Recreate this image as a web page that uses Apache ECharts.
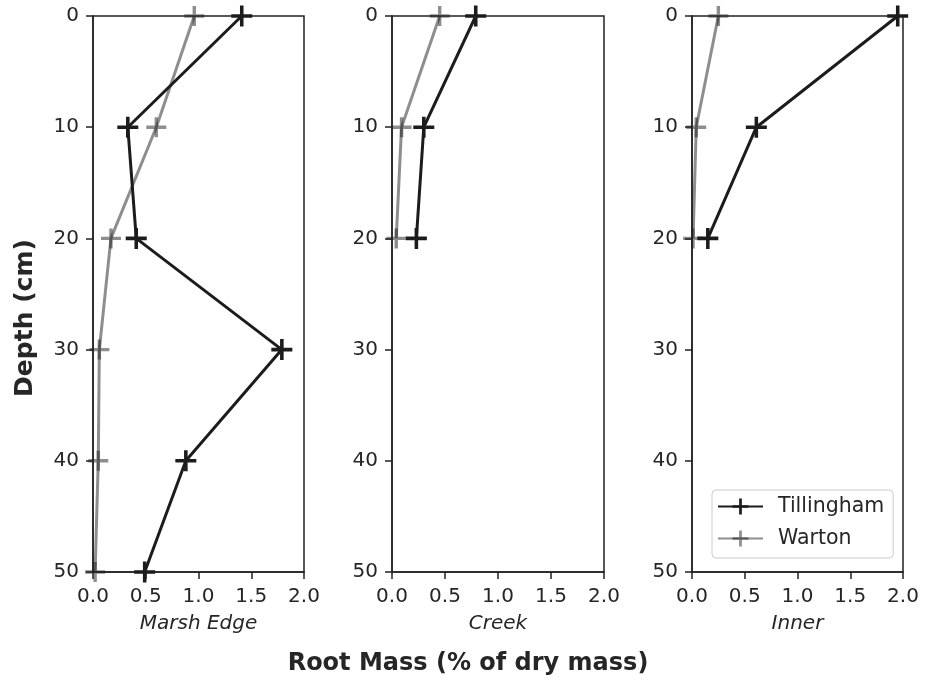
<!DOCTYPE html>
<html>
<head>
<meta charset="utf-8">
<script src="https://cdn.jsdelivr.net/npm/echarts@6/dist/echarts.min.js"></script>
<style>html,body{margin:0;padding:0;background:#fff}#c{width:936px;height:684px}</style>
</head>
<body>
<div id="c"></div>
<script>
// ---- data ----
const panelNames = ['Marsh Edge', 'Creek', 'Inner'];
const seriesNames = ['Tillingham', 'Warton'];
const marshDepths = [0, 10, 20, 30, 40, 50];
const marshTillingham = [1.41, 0.33, 0.41, 1.79, 0.88, 0.49];
const marshWarton = [0.96, 0.60, 0.17, 0.06, 0.05, 0.02];
const creekDepths = [0, 10, 20];
const creekTillingham = [0.79, 0.30, 0.23];
const creekWarton = [0.45, 0.09, 0.04];
const innerDepths = [0, 10, 20];
const innerTillingham = [1.95, 0.61, 0.15];
const innerWarton = [0.25, 0.04, 0.01];
const xTicks = [0, 0.5, 1.0, 1.5, 2.0];
const yTicks = [0, 10, 20, 30, 40, 50];

const panels = [
  {depths: marshDepths, till: marshTillingham, wart: marshWarton},
  {depths: creekDepths, till: creekTillingham, wart: creekWarton},
  {depths: innerDepths, till: innerTillingham, wart: innerWarton}
];

const FONT = 'DejaVu Sans';
const TXT = '#262626';
const TICK = '#222';
const plus = 'path://M-1.7,-10H1.7V-1.7H10V1.7H1.7V10H-1.7V1.7H-10V-1.7H-1.7Z';
const gridLefts = [93, 392, 692];
const gridWidths = [211, 212, 211];

const grids = [], xAxes = [], yAxes = [], series = [];
panels.forEach((p, i) => {
  grids.push({left: gridLefts[i], top: 16, width: gridWidths[i], height: 556,
    show: true, borderColor: '#222', borderWidth: 1.5});
  xAxes.push({type: 'value', gridIndex: i,
    min: xTicks[0], max: xTicks[xTicks.length-1], interval: 0.5,
    axisLine: {show: true, onZero: false, lineStyle: {color: '#222', width: 1.5}},
    axisTick: {show: true, length: 7, lineStyle: {color: TICK, width: 1.5}},
    axisLabel: {fontFamily: FONT, fontSize: 20, color: TXT, margin: 15, formatter: v => v.toFixed(1)},
    splitLine: {show: false},
    name: panelNames[i], nameLocation: 'middle', nameGap: 42,
    nameTextStyle: {fontFamily: FONT, fontSize: 20, fontStyle: 'italic', color: TXT}});
  yAxes.push({type: 'value', gridIndex: i, inverse: true,
    min: yTicks[0], max: yTicks[yTicks.length-1], interval: 10,
    axisLine: {show: true, onZero: false, lineStyle: {color: '#222', width: 1.5}},
    axisTick: {show: true, length: 7, lineStyle: {color: TICK, width: 1.5}},
    axisLabel: {fontFamily: FONT, fontSize: 20, color: TXT, margin: 14},
    splitLine: {show: false}});
  series.push({name: 'Warton', type: 'line', xAxisIndex: i, yAxisIndex: i,
    data: p.depths.map((d, k) => [p.wart[k], d]),
    symbol: plus, symbolSize: 20, clip: true,
    lineStyle: {color: 'rgba(30,30,30,0.5)', width: 3},
    itemStyle: {color: 'rgba(30,30,30,0.5)'}, z: 2});
  series.push({name: 'Tillingham', type: 'line', xAxisIndex: i, yAxisIndex: i,
    data: p.depths.map((d, k) => [p.till[k], d]),
    symbol: plus, symbolSize: 21, clip: true,
    lineStyle: {color: '#1c1c1c', width: 3},
    itemStyle: {color: '#1c1c1c'}, z: 3});
});

const chart = echarts.init(document.getElementById('c'), null, {renderer: 'canvas'});
chart.setOption({
  animation: false,
  backgroundColor: '#fff',
  grid: grids, xAxis: xAxes, yAxis: yAxes, series: series,
  legend: {data: seriesNames, orient: 'vertical', left: 712, top: 490,
    itemWidth: 45, itemHeight: 20, itemGap: 11,
    padding: [6, 9, 9, 5],
    borderColor: '#cccccc', borderWidth: 1, borderRadius: 4, backgroundColor: 'rgba(255,255,255,0.8)',
    textStyle: {fontFamily: FONT, fontSize: 20.5, color: TXT, padding: [0, 0, 0, 10]}},
  graphic: [
    {type: 'text', left: 'center', top: 652, style: {text: 'Root Mass (% of dry mass)', x: 0,
      font: 'bold 24px "DejaVu Sans"', fill: TXT}},
    {type: 'text', x: 25, y: 318, rotation: Math.PI/2,
      style: {text: 'Depth (cm)', font: 'bold 25px "DejaVu Sans"', fill: TXT, align: 'center', verticalAlign: 'middle'}}
  ]
});
</script>
</body>
</html>
